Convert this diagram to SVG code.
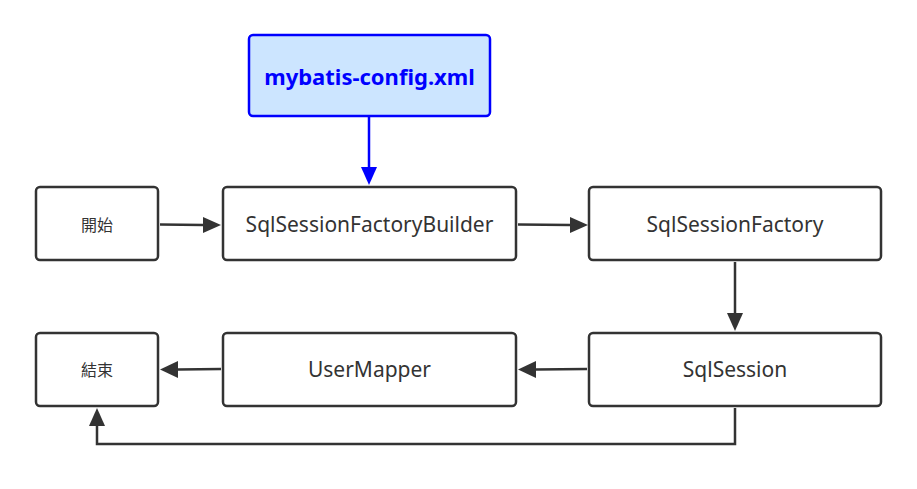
<svg xmlns="http://www.w3.org/2000/svg" width="917" height="489" viewBox="0 0 917 489">
<style>
.n{fill:#fff;stroke:#333;stroke-width:2.5}
.t{font-family:"Noto Sans","Open Sans","Noto Sans CJK SC",sans-serif;font-size:21px;fill:#333;text-anchor:middle;dominant-baseline:central}
.c{font-family:"Noto Sans CJK SC","Noto Sans",sans-serif;font-size:16px;fill:#333;text-anchor:middle;dominant-baseline:central}
.l{stroke:#333;stroke-width:2.5;fill:none}
.h{fill:#333}
</style>
<rect width="917" height="489" fill="#fff"/>
<g id="connectors">
<path class="l" d="M160,224.5L203,225"/>
<path class="h" d="M203,217L221,225L203,233z"/>
<path class="l" d="M518,224.5L570,225"/>
<path class="h" d="M570,217L588,225L570,233z"/>
<path class="l" d="M735,262L735,314"/>
<path class="h" d="M727,313L735,331L743,313z"/>
<path class="l" d="M587,369L535,369.5"/>
<path class="h" d="M536,361L518,369.5L536,378z"/>
<path class="l" d="M221,369L178,369.5"/>
<path class="h" d="M178,361L160,369.5L178,378z"/>
<path class="l" d="M735,408L735,444L97,444L97,426"/>
<path class="h" d="M89,426L97,408L105,426z"/>
<path d="M369,117L369,168" stroke="#00f" stroke-width="2.5"/>
<path d="M361,167L369,185L377,167z" fill="#00f"/>
</g>
<g id="config"><rect x="249" y="35" width="241" height="81" rx="4" fill="#cce5ff" stroke="#00f" stroke-width="2.5"/><text x="369.5" y="76" class="t" style="fill:#00f;font-weight:bold;font-size:22px">mybatis-config.xml</text></g>
<g id="start"><rect class="n" x="36" y="187" width="122" height="73" rx="4"/><text x="97" y="224" class="c">開始</text></g>
<g id="builder"><rect class="n" x="223" y="187" width="293" height="73" rx="4"/><text x="369.5" y="224" class="t">SqlSessionFactoryBuilder</text></g>
<g id="factory"><rect class="n" x="589" y="187" width="292" height="73" rx="4"/><text x="735" y="224" class="t">SqlSessionFactory</text></g>
<g id="end"><rect class="n" x="36" y="333" width="122" height="73" rx="4"/><text x="97" y="369" class="c">結束</text></g>
<g id="mapper"><rect class="n" x="223" y="333" width="293" height="73" rx="4"/><text x="369.5" y="369" class="t">UserMapper</text></g>
<g id="session"><rect class="n" x="589" y="333" width="292" height="73" rx="4"/><text x="735" y="369" class="t">SqlSession</text></g>
</svg>
